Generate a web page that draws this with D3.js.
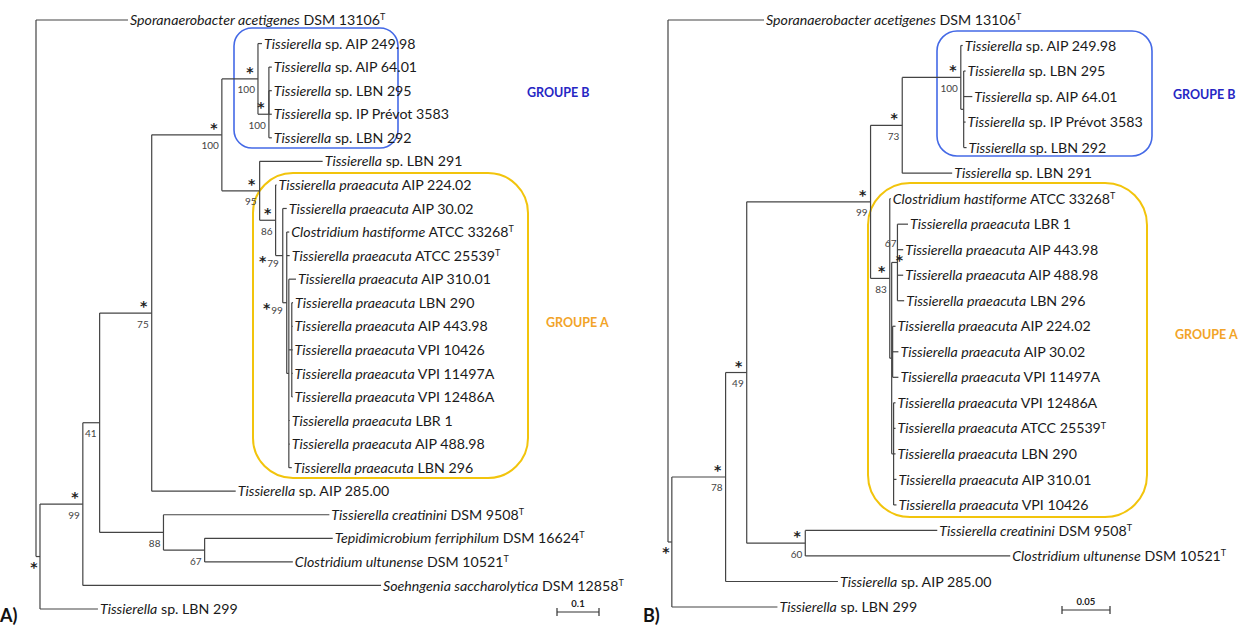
<!DOCTYPE html>
<html>
<head>
<meta charset="utf-8">
<script src="https://cdn.jsdelivr.net/npm/d3@7"></script>
<style>
  body { margin: 0; background: #fff; }
  svg { display: block; font-family: Lato, "Open Sans", sans-serif; }
</style>
</head>
<body>
<svg id="chart" width="1250" height="626"></svg>
<script>
// taxon key -> [italic name, strain, type strain?]
const taxa = {
  spor: ["Sporanaerobacter acetigenes", "DSM 13106", true],
  aip249: ["Tissierella", "sp. AIP 249.98"],
  aip64: ["Tissierella", "sp. AIP 64.01"],
  lbn295: ["Tissierella", "sp. LBN 295"],
  ipp: ["Tissierella", "sp. IP Prévot 3583"],
  lbn292: ["Tissierella", "sp. LBN 292"],
  lbn291: ["Tissierella", "sp. LBN 291"],
  aip224: ["Tissierella praeacuta", "AIP 224.02"],
  aip30: ["Tissierella praeacuta", "AIP 30.02"],
  chast: ["Clostridium hastiforme", "ATCC 33268", true],
  atcc: ["Tissierella praeacuta", "ATCC 25539", true],
  aip310: ["Tissierella praeacuta", "AIP 310.01"],
  lbn290: ["Tissierella praeacuta", "LBN 290"],
  aip443: ["Tissierella praeacuta", "AIP 443.98"],
  vpi10426: ["Tissierella praeacuta", "VPI 10426"],
  vpi11497: ["Tissierella praeacuta", "VPI 11497A"],
  vpi12486: ["Tissierella praeacuta", "VPI 12486A"],
  lbr1: ["Tissierella praeacuta", "LBR 1"],
  aip488: ["Tissierella praeacuta", "AIP 488.98"],
  lbn296: ["Tissierella praeacuta", "LBN 296"],
  aip285: ["Tissierella", "sp. AIP 285.00"],
  creat: ["Tissierella creatinini", "DSM 9508", true],
  tepid: ["Tepidimicrobium ferriphilum", "DSM 16624", true],
  ultun: ["Clostridium ultunense", "DSM 10521", true],
  soehn: ["Soehngenia saccharolytica", "DSM 12858", true],
  lbn299: ["Tissierella", "sp. LBN 299"]
};

// trees: [node, branch length, children]
const treeA = ["r", 0, [
  ["spor", 0.219],
  ["n1", 0.0095, [
    ["n2", 0.102, [
      ["n3", 0.040, [
        ["n4", 0.124, [
          ["n6", 0.167, [
            ["n7", 0.086, [
              ["aip249", 0.0095],
              ["n9", 0.026, [
                ["n9a", 0, [["aip64", 0.007], ["lbn295", 0.007], ["ipp", 0.007]]],
                ["lbn292", 0.007]
              ]]
            ]],
            ["n8", 0.090, [
              ["lbn291", 0.150],
              ["n10", 0.038, [
                ["aip224", 0.002],
                ["n11", 0.017, [
                  ["aip30", 0.0095],
                  ["x", 0.0095, [
                    ["chast", 0.006],
                    ["atcc", 0.007],
                    ["t", 0.005, [
                      ["aip310", 0.017],
                      ["u", 0.007, [["lbn290", 0.003], ["aip443", 0.002], ["vpi10426", 0.002], ["vpi11497", 0.002], ["vpi12486", 0.002]]],
                      ["lbr1", 0.002], ["aip488", 0.002], ["lbn296", 0.007]
                    ]]
                  ]]
                ]]
              ]]
            ]]
          ]],
          ["aip285", 0.200]
        ]],
        ["n5", 0.152, [
          ["creat", 0.395],
          ["n14", 0.098, [["tepid", 0.305], ["ultun", 0.210]]]
        ]]
      ]],
      ["soehn", 0.710]
    ]],
    ["lbn299", 0.138]
  ]]
]];

const treeB = ["r", 0, [
  ["spor", 0.100],
  ["n1", 0.004, [
    ["n2", 0.056, [
      ["n3", 0.022, [
        ["n4", 0.129, [
          ["n6", 0.033, [
            ["n8", 0.061, [
              ["aip249", 0.002],
              ["n8b", 0.003, [["lbn295", 0.002], ["aip64", 0.009], ["ipp", 0.002], ["lbn292", 0.003]]]
            ]],
            ["lbn291", 0.052]
          ]],
          ["n7", 0.020, [
            ["chast", 0.001],
            ["n9", 0.002, [
              ["n10", 0.006, [["lbr1", 0.011], ["aip443", 0.006], ["aip488", 0.006], ["lbn296", 0.007]]],
              ["n11", 0.001, [["aip224", 0.003], ["aip30", 0.006], ["vpi11497", 0.006]]],
              ["n12", 0.002, [["vpi12486", 0.002], ["atcc", 0.002], ["lbn290", 0.002], ["aip310", 0.003], ["vpi10426", 0.003]]]
            ]]
          ]]
        ]],
        ["n5", 0.061, [["creat", 0.1375], ["ultun", 0.2135]]]
      ]],
      ["aip285", 0.117]
    ]],
    ["lbn299", 0.110]
  ]]
]];

// bootstrap support: [star, value]
const supportA = {
  n1: ["*", null], n2: ["*", "99"], n3: [null, "41"], n4: ["*", "75"],
  n6: ["*", "100"], n7: ["*", "100"], n9: ["*", "100"], n8: ["*", "95"],
  n10: ["*", "86"], n11: ["*", "79"], x: ["*", "99"], n5: [null, "88"], n14: [null, "67"]
};
const supportB = {
  n1: ["*", null], n2: ["*", "78"], n3: ["*", "49"], n5: ["*", "60"], n4: ["*", "99"],
  n6: ["*", "73"], n7: ["*", "83"], n8: ["*", "100"], n10: ["*", "67"]
};
const labelModeA = { n1: "below", n11: "side", x: "side" };
const labelModeB = { n1: "below", n10: "stack" };

const svg = d3.select("#chart");
const lineColor = "#444";

function drawTree(tree, support, modes, opt) {
  const root = d3.hierarchy(tree, d => d[2]);
  root.eachBefore(n => { n.len = n.parent ? n.parent.len + n.data[1] : 0; });
  const nLeaves = root.leaves().length;
  const x = d3.scaleLinear().domain([0, 1]).range([opt.x0, opt.x0 + opt.pxPerUnit]);
  const y = d3.scaleLinear().domain([0, nLeaves - 1]).range([opt.y0, opt.y1]);
  let i = 0;
  root.eachAfter(n => {
    if (!n.children) n.yy = y(i++);
    else n.yy = (n.children[0].yy + n.children[n.children.length - 1].yy) / 2;
    n.xx = x(n.len);
  });

  const g = svg.append("g");
  const nodes = root.descendants();

  g.selectAll(".h").data(nodes.filter(n => n.parent)).join("line")
    .attr("x1", n => n.parent.xx).attr("x2", n => n.xx)
    .attr("y1", n => n.yy).attr("y2", n => n.yy)
    .attr("stroke", lineColor).attr("stroke-width", 1.2);

  g.selectAll(".v").data(nodes.filter(n => n.children)).join("line")
    .attr("x1", n => n.xx).attr("x2", n => n.xx)
    .attr("y1", n => n.children[0].yy).attr("y2", n => n.children[n.children.length - 1].yy)
    .attr("stroke", lineColor).attr("stroke-width", 1.2);

  const leaf = g.selectAll(".leaf").data(root.leaves()).join("text")
    .attr("x", n => n.xx + 2).attr("y", n => n.yy).attr("dy", "0.36em")
    .attr("font-size", 14.2).attr("fill", "#1a1a1a");
  leaf.each(function (n) {
    const t = d3.select(this);
    const [it, rest, typ] = taxa[n.data[0]];
    t.append("tspan").attr("font-style", "italic").text(it);
    t.append("tspan").text(" " + rest);
    if (typ) t.append("tspan").attr("font-size", 9).attr("dy", "-0.55em").text("T");
  });

  nodes.filter(n => support[n.data[0]]).forEach(n => {
    const [star, val] = support[n.data[0]];
    const mode = modes[n.data[0]] || "default";
    let sx = n.xx - 8, sy = n.yy - 9, vx = n.xx - 3, vy = n.yy + 11;
    if (mode === "below") { sx = n.xx - 6; sy = n.yy + 8; }
    if (mode === "side") { sx = n.xx - 20; sy = n.yy + 3; vx = n.xx - 4; vy = n.yy + 8; }
    if (mode === "stack") { sx = n.xx + 2; sy = n.yy - 4; vx = n.xx - 1; vy = n.yy - 19; }
    if (star) g.append("text").attr("x", sx).attr("y", sy + 7).attr("text-anchor", "middle")
      .attr("font-family", "DejaVu Sans").attr("font-weight", "bold")
      .attr("font-size", 14).attr("fill", "#222").text(star);
    if (val) g.append("text").attr("x", vx).attr("y", vy).attr("dy", "0.35em")
      .attr("text-anchor", "end").attr("font-size", 10).attr("fill", "#444").text(val);
  });

  // scale bar
  const sb = g.append("g");
  const bx = opt.barX, bw = x(opt.barLen) - x(0);
  sb.append("line").attr("x1", bx).attr("x2", bx + bw).attr("y1", opt.barY).attr("y2", opt.barY)
    .attr("stroke", "#333").attr("stroke-width", 1.2);
  [bx, bx + bw].forEach(px => sb.append("line").attr("x1", px).attr("x2", px)
    .attr("y1", opt.barY - 4).attr("y2", opt.barY + 4).attr("stroke", "#333").attr("stroke-width", 1.2));
  sb.append("text").attr("x", bx + bw / 2).attr("y", opt.barY - 5).attr("text-anchor", "middle")
    .attr("font-size", 9.5).attr("font-weight", "bold").attr("fill", "#222").text(String(opt.barLen));

  g.append("text").attr("x", opt.panelX).attr("y", 622).attr("font-size", 18)
    .attr("font-weight", "bold").attr("fill", "#111").text(opt.panel);
  return g;
}

function groupBox(bx, by, bw, bh, r, stroke, sw, label, lx, ly, lcolor) {
  svg.append("rect").attr("x", bx).attr("y", by).attr("width", bw).attr("height", bh)
    .attr("rx", r).attr("ry", r).attr("fill", "none").attr("stroke", stroke).attr("stroke-width", sw);
  svg.append("text").attr("x", lx).attr("y", ly).attr("dy", "0.35em").attr("font-size", 12.5)
    .attr("font-weight", "bold").attr("fill", lcolor).text(label);
}

// group boxes (behind trees)
groupBox(234, 28, 164, 120, 18, "#4469e6", 1.6, "GROUPE B", 527, 93, "#2626c4");
groupBox(253, 173, 275, 305, 40, "#f2c40c", 2, "GROUPE A", 546, 323, "#f2a428");
groupBox(937, 31, 215, 125, 20, "#4469e6", 1.6, "GROUPE B", 1173, 95, "#2626c4");
groupBox(868, 183, 279, 334, 42, "#f2c40c", 2, "GROUPE A", 1175, 335, "#f2a428");

drawTree(treeA, supportA, labelModeA, {
  x0: 36, pxPerUnit: 420, y0: 20, y1: 609,
  barX: 557, barY: 612, barLen: 0.1, panel: "A)", panelX: 0
});
drawTree(treeB, supportB, labelModeB, {
  x0: 668, pxPerUnit: 960, y0: 20, y1: 607,
  barX: 1062, barY: 610, barLen: 0.05, panel: "B)", panelX: 643
});
</script>
</body>
</html>
